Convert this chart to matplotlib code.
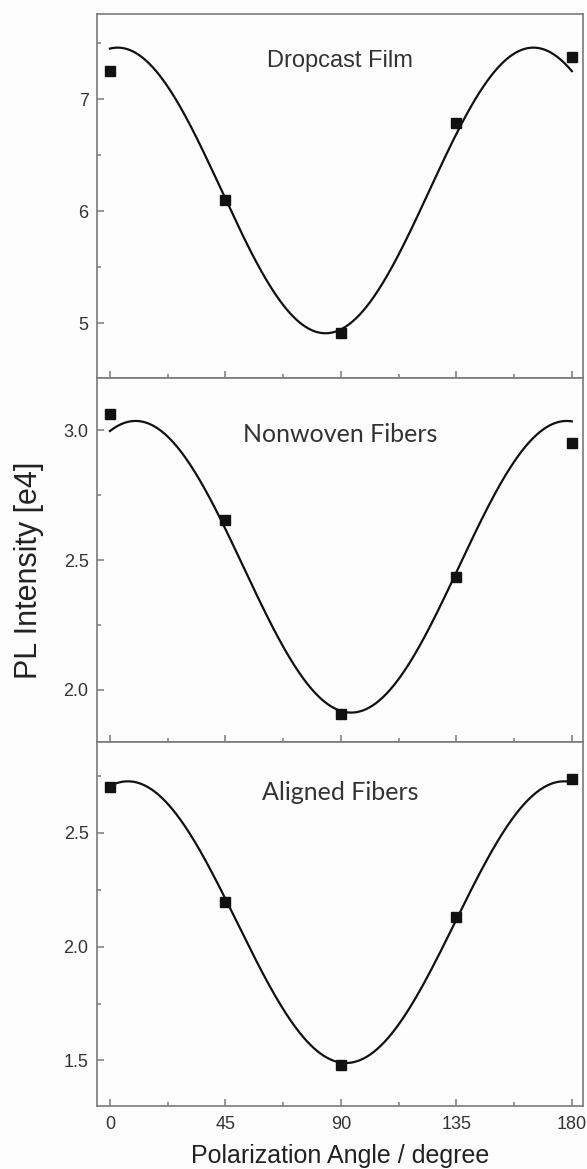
import numpy as np
import matplotlib
matplotlib.use('Agg')
import matplotlib.pyplot as plt
from matplotlib.ticker import MultipleLocator, FormatStrFormatter

# measured points
angles = [0, 45, 90, 135, 180]
film = [7.25, 6.10, 4.91, 6.79, 7.38]
nonwoven = [3.063, 2.654, 1.906, 2.436, 2.949]
aligned = [2.700, 2.195, 1.481, 2.129, 2.738]

# cos fit: offset, amplitude, peak angle, period
fit_offset = [6.185, 2.474, 2.108]
fit_amp = [1.275, 0.561, 0.619]
fit_peak = [3, 10, 7]
fit_period = [162, 168, 170]

names = ['Dropcast Film', 'Nonwoven Fibers', 'Aligned Fibers']
ylims = [(4.51, 7.76), (1.80, 3.20), (1.30, 2.90)]
major = [1, 0.5, 0.5]
fmt = ['%d', '%.1f', '%.1f']

spine_c = '#7a7a7a'
txt_c = '#333333'

fig = plt.figure(figsize=(5.87, 11.69), dpi=100)
fig.patch.set_facecolor('#fcfcfc')

bounds = [(0.6766, 0.988), (0.3653, 0.6766), (0.0539, 0.3653)]
axs = []
for i, (b, t) in enumerate(bounds):
    ax = fig.add_axes([0.165, b, 0.828, t - b])
    axs.append(ax)

series = [film, nonwoven, aligned]
xs = np.linspace(0, 180, 400)
for i, ax in enumerate(axs):
    ax.set_facecolor('#fdfdfd')
    curve = fit_offset[i] + fit_amp[i] * np.cos(2 * np.pi * (xs - fit_peak[i]) / fit_period[i])
    ax.plot(xs, curve, color='#111111', lw=1.6)
    ax.plot(angles, series[i], 's', color='#111111', ms=7, mec='#111111')
    ax.set_xlim(-5.1, 184.3)
    ax.set_ylim(*ylims[i])
    ax.xaxis.set_major_locator(MultipleLocator(45))
    ax.xaxis.set_minor_locator(MultipleLocator(22.5))
    ax.yaxis.set_major_locator(MultipleLocator(major[i]))
    ax.yaxis.set_minor_locator(MultipleLocator(major[i] / 2))
    ax.yaxis.set_major_formatter(FormatStrFormatter(fmt[i]))
    for s in ax.spines.values():
        s.set_color(spine_c)
        s.set_linewidth(1.2)
    ax.tick_params(which='both', direction='in', color=spine_c, width=1.1,
                   labelcolor=txt_c, labelsize=13, top=False, right=False)
    ax.tick_params(which='major', length=5)
    ax.tick_params(which='minor', length=3)
    ax.tick_params(axis='y', pad=6)
    for lab in ax.get_yticklabels():
        lab.set_family('Liberation Sans')
    if i < 2:
        ax.tick_params(axis='x', labelbottom=False)

axs[0].text(0.5, 0.872, names[0], transform=axs[0].transAxes, ha='center', va='center',
            fontsize=17, color=txt_c, family='Liberation Sans')
axs[1].text(0.5, 0.845, names[1], transform=axs[1].transAxes, ha='center', va='center',
            fontsize=18, color=txt_c, family='Lato')
axs[2].text(0.5, 0.862, names[2], transform=axs[2].transAxes, ha='center', va='center',
            fontsize=18, color=txt_c, family='Lato')

for lab in axs[2].get_xticklabels():
    lab.set_family('Liberation Sans')
axs[2].tick_params(axis='x', pad=7)

fig.text(0.049, 1 - 570 / 1169, 'PL Intensity [e4]', rotation=90, ha='center', va='center',
         fontsize=22, color='#222222', family='Liberation Sans')
fig.text(0.58, 1 - 1156 / 1169, 'Polarization Angle / degree', ha='center', va='center',
         fontsize=18, color='#222222', family='Liberation Sans')

fig.savefig('out.png', dpi=100, facecolor=fig.get_facecolor())
